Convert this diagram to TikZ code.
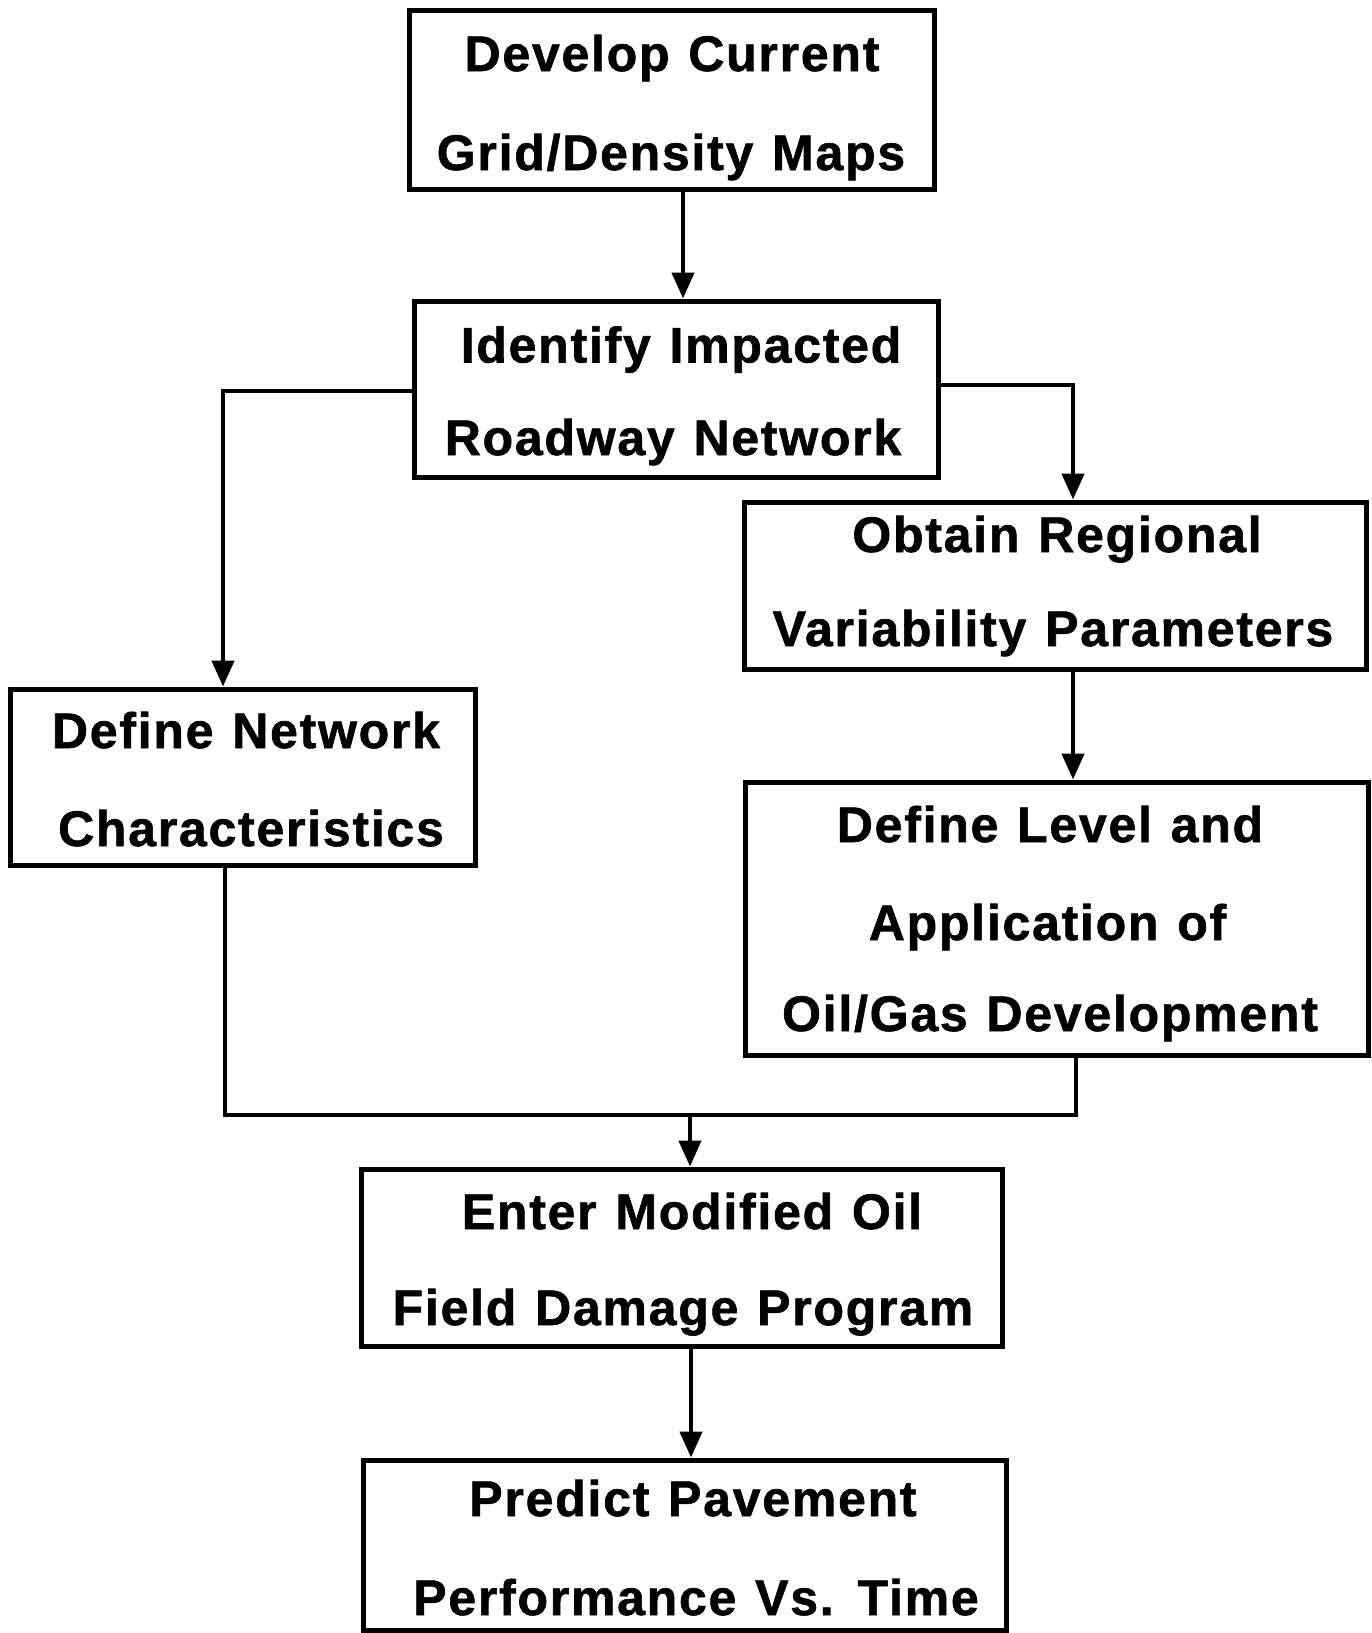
\documentclass[tikz,border=0pt]{standalone}
\usepackage{fontspec}
\usetikzlibrary{arrows.meta}
\newfontfamily\boxfont{Liberation Sans}[LetterSpace=3.5,WordSpace=1.2,FakeBold=1.2]
\begin{document}
\begin{tikzpicture}[x=1pt,y=-1pt,
  box/.style={draw, line width=5pt, rectangle, inner sep=0pt},
  txt/.style={anchor=base, inner sep=0pt, font=\boxfont\bfseries\fontsize{50}{60}\selectfont},
  conn/.style={line width=4.5pt, line join=miter},
  arr/.style={conn, -{Triangle[width=22pt,length=26pt]}}]
\useasboundingbox[fill=white] (0,0) rectangle (1372,1633);
\node[box, minimum width=525pt, minimum height=179pt] (b1) at (671.5,99.5) {};
\node[box, minimum width=524pt, minimum height=176pt] (b2) at (676,389) {};
\node[box, minimum width=622pt, minimum height=167pt] (b3) at (1055,585.5) {};
\node[box, minimum width=465pt, minimum height=176pt] (b4) at (242.5,777) {};
\node[box, minimum width=623pt, minimum height=273pt] (b5) at (1056.5,918.5) {};
\node[box, minimum width=641pt, minimum height=177pt] (b6) at (681.5,1257.5) {};
\node[box, minimum width=643pt, minimum height=170pt] (b7) at (684.5,1545) {};
% texts
\node[txt] (t1a) at (672,71) {Develop Current};
\node[txt] (t1b) at (671,170) {Grid/Density Maps};
\node[txt] (t2a) at (681,362.5) {Identify Impacted};
\node[txt] (t2b) at (673,455) {Roadway Network};
\node[txt] (t3a) at (1057,552) {Obtain Regional};
\node[txt] (t3b) at (1053,646) {Variability Parameters};
\node[txt] (t4a) at (246,748) {Define Network};
\node[txt] (t4b) at (251,846) {Characteristics};
\node[txt] (t5a) at (1050,842) {Define Level and};
\node[txt] (t5b) at (1047.5,940) {Application of};
\node[txt] (t5c) at (1050,1031) {Oil/Gas Development};
\node[txt] (t6a) at (692,1229) {Enter Modified Oil};
\node[txt] (t6b) at (683,1325) {Field Damage Program};
\node[txt] (t7a) at (693,1516) {Predict Pavement};
\node[txt] (t7b) at (696,1615) {Performance Vs. Time};
% connectors
\coordinate (c1) at (683,0);
\coordinate (l2) at (223,391);
\coordinate (r2) at (1073,385);
\coordinate (jl) at (225,1115);
\coordinate (jr) at (1076,1115);
\coordinate (jm) at (690,1115);
\coordinate (c6) at (691,0);
\draw[arr] (b1.south -| c1) -- (b2.north -| c1);
\draw[arr] (b2.west |- l2) -| (b4.north -| l2);
\draw[arr] (b2.east |- r2) -| (b3.north -| r2);
\draw[arr] (b3.south -| r2) -- (b5.north -| r2);
\draw[conn] (b4.south -| jl) -- (jl) -- (jr) -- (b5.south -| jr);
\draw[arr] (jm) -- (b6.north -| jm);
\draw[arr] (b6.south -| c6) -- (b7.north -| c6);
\end{tikzpicture}
\end{document}
